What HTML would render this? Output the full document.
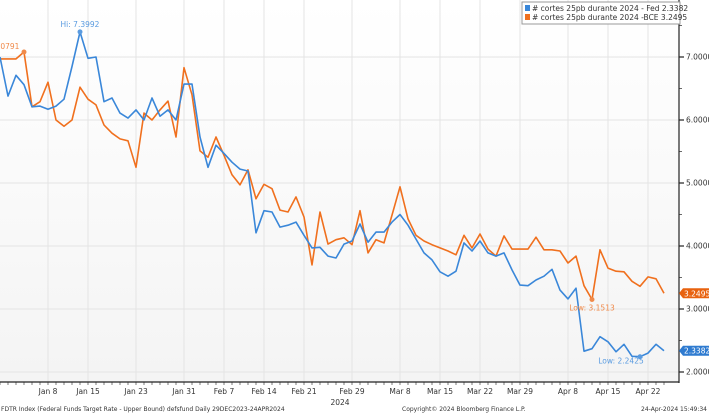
<!DOCTYPE html>
<html><head><meta charset="utf-8">
<style>
html,body{margin:0;padding:0;background:#fff;}
body{width:709px;height:414px;overflow:hidden;font-family:"DejaVu Sans","Liberation Sans",sans-serif;}
svg text{font-family:"DejaVu Sans","Liberation Sans",sans-serif;}
</style></head>
<body>
<svg id="chart" width="709" height="414" viewBox="0 0 709 414" xmlns="http://www.w3.org/2000/svg">
<defs>
<linearGradient id="bg" x1="0" y1="0" x2="0" y2="1">
<stop offset="0" stop-color="#ffffff"/><stop offset="1" stop-color="#f4f4f4"/>
</linearGradient>
</defs>
<rect x="0" y="0" width="679" height="382" fill="url(#bg)"/>
<g id="grid"></g>
<g id="series"></g>
<g id="axes"></g>
<g>
<rect x="522" y="2" width="158" height="22" fill="#fff" stroke="#999" stroke-width="1"/>
<rect x="525" y="5" width="5" height="6" fill="#3a87d9"/>
<text x="532" y="11" font-size="7.5" fill="#333"># cortes 25pb durante 2024  - Fed 2.3382</text>
<rect x="525" y="14" width="5" height="6" fill="#f0701e"/>
<text x="532" y="20" font-size="7.5" fill="#333"># cortes 25pb durante 2024  -BCE  3.2495</text>
</g>
<text x="1" y="411" font-size="6" fill="#333">FDTR Index (Federal Funds Target Rate - Upper Bound) defsfund  Daily 29DEC2023-24APR2024</text>
<text x="402" y="411" font-size="6" fill="#333">Copyright© 2024 Bloomberg Finance L.P.</text>
<text x="707" y="411" font-size="6" fill="#333" text-anchor="end">24-Apr-2024 15:49:34</text>
</svg>
<script>
const fedValues=[7.0,6.38,6.71,6.56,6.21,6.22,6.17,6.22,6.33,6.85,7.3992,6.98,7.0,6.29,6.35,6.11,6.03,6.16,6.0,6.35,6.06,6.16,6.0,6.57,6.57,5.73,5.25,5.6,5.47,5.33,5.22,
5.19,4.21,4.56,4.54,4.3,4.33,4.38,4.17,3.97,3.98,3.84,3.81,4.03,4.08,4.35,4.06,4.22,4.22,4.38,4.5,4.33,4.11,3.89,3.78,3.59,3.52,3.6,
4.05,3.92,4.08,3.89,3.84,3.89,3.62,3.38,3.37,3.46,3.52,3.63,3.3,3.16,3.33,2.33,2.37,2.56,2.48,2.32,2.44,2.25,2.2425,2.3,2.44,2.3382];
const bceValues=[6.97,6.97,6.97,7.0791,6.21,6.29,6.6,6.0,5.9,6.0,6.52,6.33,6.24,5.92,5.79,5.7,5.67,5.25,6.11,6.0,6.16,6.3,5.73,6.83,6.4,5.51,5.41,5.73,5.44,5.13,4.97,
5.21,4.75,4.98,4.91,4.57,4.54,4.78,4.46,3.7,4.54,4.03,4.1,4.13,4.02,4.56,3.89,4.1,4.05,4.49,4.94,4.43,4.17,4.08,4.02,3.97,3.92,3.86,
4.17,3.97,4.19,3.95,3.84,4.16,3.95,3.95,3.95,4.14,3.94,3.94,3.92,3.73,3.84,3.37,3.1513,3.94,3.65,3.6,3.59,3.44,3.36,3.51,3.48,3.2495];
const xTickIndex=[6,11,17,23,28,33,38,44,50,55,60,65,71,76,81];
const xTickLabels=["Jan 8","Jan 15","Jan 23","Jan 31","Feb 7","Feb 14","Feb 21","Feb 29","Mar 8","Mar 15","Mar 22","Mar 29","Apr 8","Apr 15","Apr 22"];
const yTicks=[2,3,4,5,6,7];
const yTickLabels=["2.0000","3.0000","4.0000","5.0000","6.0000","7.0000"];

const NS="http://www.w3.org/2000/svg";
const nPts=fedValues.length;
function xScale(i){return i*664/(nPts-1);}
function yScale(v){return 372-(v-2)*63;}
function mk(tag,attrs,parent){const e=document.createElementNS(NS,tag);for(const k in attrs)e.setAttribute(k,attrs[k]);parent.appendChild(e);return e;}
const grid=document.getElementById('grid'),series=document.getElementById('series'),axes=document.getElementById('axes');

xTickIndex.forEach((ti,k)=>{
  const x=xScale(ti);
  const g=mk('line',{x1:x,x2:x,y1:0,y2:382,stroke:'#e4e4e4','stroke-width':1},grid);
  
  
  const t=mk('text',{x:x,y:394,'font-size':7.5,fill:'#333','text-anchor':'middle'},axes);
  t.textContent=xTickLabels[k];
  
  
});
for(let i=0;i<nPts;i++){
  const m=mk('line',{x1:xScale(i),x2:xScale(i),y1:382,y2:385,stroke:'#444','stroke-width':0.7},axes);
  
  
}
yTicks.forEach((v,k)=>{
  const y=yScale(v);
  const g=mk('line',{x1:0,x2:679,y1:y,y2:y,stroke:'#e4e4e4','stroke-width':1},grid);
  
  
  const tk=mk('line',{x1:679,x2:684,y1:y,y2:y,stroke:'#222','stroke-width':1.2},axes);
  
  
  const t=mk('text',{x:686,y:y+2.5,'font-size':7.5,fill:'#333'},axes);
  t.textContent=yTickLabels[k];
  
  
  const mn=mk('line',{x1:679,x2:682,y1:y-31.5,y2:y-31.5,stroke:'#444','stroke-width':0.8},axes);
  
  
});
const ax1=mk('line',{x1:679,x2:679,y1:0,y2:383,stroke:'#222','stroke-width':1.2},axes);


const ax2=mk('line',{x1:0,x2:679,y1:382,y2:382,stroke:'#222','stroke-width':1.2},axes);


const yr=mk('text',{x:340,y:405,'font-size':7.5,fill:'#333','text-anchor':'middle'},axes);
yr.textContent='2024';



function drawSeries(vals,color,name){
  const d=vals.map((v,i)=>(i?'L':'M')+xScale(i).toFixed(1)+' '+yScale(v).toFixed(1)).join(' ');
  const p=mk('path',{d:d,fill:'none',stroke:color,'stroke-width':1.6,'stroke-linejoin':'round'},series);
  
  
}
drawSeries(bceValues,'#f0701e','line-bce');
drawSeries(fedValues,'#3a87d9','line-fed');

function extreme(vals,hi){let idx=0;vals.forEach((v,i)=>{if(hi?v>vals[idx]:v<vals[idx])idx=i;});return idx;}
function annotate(vals,hi,color,name,dx,dy,anchor){
  const i=extreme(vals,hi);const x=xScale(i),y=yScale(vals[i]);
  const c=mk('circle',{cx:x,cy:y,r:2.5,fill:color},series);
  
  
  const t=mk('text',{x:x+dx,y:y+dy,'font-size':7.5,fill:color,'text-anchor':anchor},series);
  t.textContent=(hi?'Hi: ':'Low: ')+vals[i].toFixed(4);
  
  
}
annotate(fedValues,true,'#5a9be0','fed-high',0,-5,'middle');
annotate(bceValues,true,'#f08a4a','bce-high',-24,-3,'middle');
annotate(bceValues,false,'#f08a4a','bce-low',0,11,'middle');
annotate(fedValues,false,'#5a9be0','fed-low',-19,7,'middle');

function lastTag(vals,color,name){
  const v=vals[vals.length-1];const y=yScale(v);
  const p=mk('path',{d:`M679 ${y} L683 ${y-5} L709 ${y-5} L709 ${y+5} L683 ${y+5} Z`,fill:color},axes);
  
  
  const t=mk('text',{x:684,y:y+3,'font-size':7.5,fill:'#fff'},axes);
  t.textContent=v.toFixed(4);
  
  
}
lastTag(bceValues,'#e8620f','bce-last');
lastTag(fedValues,'#2f7bd0','fed-last');
</script>
</body></html>
